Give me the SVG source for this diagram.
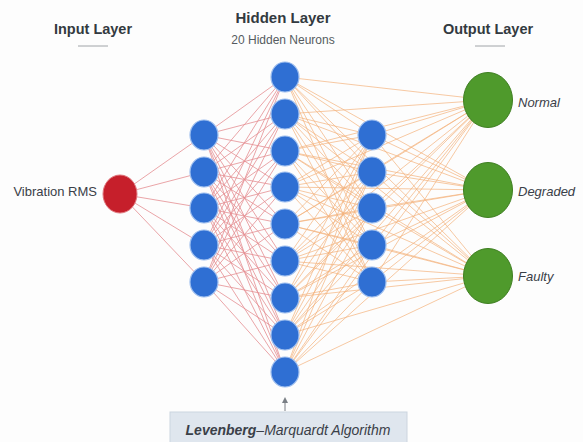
<svg xmlns="http://www.w3.org/2000/svg" width="583" height="442" viewBox="0 0 583 442">
  <defs>
    <style>
      .hdr { font-family: "Liberation Sans", Arial, sans-serif; font-weight: bold; fill: #333a40; text-anchor: middle; }
      .sub { font-family: "Liberation Sans", Arial, sans-serif; font-size: 12px; fill: #555b60; text-anchor: middle; }
      .lbl { font-family: "Liberation Sans", Arial, sans-serif; font-size: 13px; fill: #3a4048; }
      .out { font-style: italic; }
      .rule { stroke: #a0a4a8; stroke-width: 1; }
      .red { fill: none; stroke: #e58f92; stroke-width: 1; stroke-opacity: 0.8; }
      .org { fill: none; stroke: #f4b27c; stroke-width: 1; stroke-opacity: 0.7; }
      .in { fill: #c61f2b; stroke: #e0757c; stroke-width: 1; }
      .hid { fill: #2f6fd3; stroke: #9cbdee; stroke-width: 1.2; }
      .res { fill: #4f9a2c; stroke: #3f7f22; stroke-width: 1; }
    </style>
    <marker id="tip" viewBox="0 0 6 6" refX="3" refY="3" markerWidth="6" markerHeight="6" orient="auto">
      <path d="M0 0L6 3L0 6Z" fill="#7a7f85"/>
    </marker>
  </defs>

  <rect width="583" height="442" fill="#fdfdfd"/>

  <!-- layer titles -->
  <g id="titles">
    <text class="hdr" x="93" y="34" font-size="14.5">Input Layer</text>
    <line class="rule" x1="78" y1="46" x2="108" y2="46"/>
    <text class="hdr" x="283" y="23" font-size="15">Hidden Layer</text>
    <text class="sub" x="283" y="44">20 Hidden Neurons</text>
    <text class="hdr" x="488" y="34" font-size="14.5">Output Layer</text>
    <line class="rule" x1="475" y1="46" x2="505" y2="46"/>
  </g>

  <!-- weighted connections between layers -->
  <g id="connectors">
    <path class="red" d="M120 194L204 135M120 194L204 172M120 194L204 208M120 194L204 245M120 194L204 282"/>
    <path class="red" d="M204 135L285 77M204 135L285 114M204 135L285 151M204 135L285 187M204 135L285 224M204 135L285 261M204 135L285 298M204 135L285 335M204 135L285 372"/>
    <path class="red" d="M204 172L285 77M204 172L285 114M204 172L285 151M204 172L285 187M204 172L285 224M204 172L285 261M204 172L285 298M204 172L285 335M204 172L285 372"/>
    <path class="red" d="M204 208L285 77M204 208L285 114M204 208L285 151M204 208L285 187M204 208L285 224M204 208L285 261M204 208L285 298M204 208L285 335M204 208L285 372"/>
    <path class="red" d="M204 245L285 77M204 245L285 114M204 245L285 151M204 245L285 187M204 245L285 224M204 245L285 261M204 245L285 298M204 245L285 335M204 245L285 372"/>
    <path class="red" d="M204 282L285 77M204 282L285 114M204 282L285 151M204 282L285 187M204 282L285 224M204 282L285 261M204 282L285 298M204 282L285 335M204 282L285 372"/>

    <path class="org" d="M285 77L372 135M285 77L372 172M285 77L372 208M285 77L372 245M285 77L372 282M285 77L488 100M285 77L488 190M285 77L488 276"/>
    <path class="org" d="M285 114L372 135M285 114L372 172M285 114L372 208M285 114L372 245M285 114L372 282M285 114L488 100M285 114L488 190M285 114L488 276"/>
    <path class="org" d="M285 151L372 135M285 151L372 172M285 151L372 208M285 151L372 245M285 151L372 282M285 151L488 100M285 151L488 190M285 151L488 276"/>
    <path class="org" d="M285 187L372 135M285 187L372 172M285 187L372 208M285 187L372 245M285 187L372 282M285 187L488 100M285 187L488 190M285 187L488 276"/>
    <path class="org" d="M285 224L372 135M285 224L372 172M285 224L372 208M285 224L372 245M285 224L372 282M285 224L488 100M285 224L488 190M285 224L488 276"/>
    <path class="org" d="M285 261L372 135M285 261L372 172M285 261L372 208M285 261L372 245M285 261L372 282M285 261L488 100M285 261L488 190M285 261L488 276"/>
    <path class="org" d="M285 298L372 135M285 298L372 172M285 298L372 208M285 298L372 245M285 298L372 282M285 298L488 100M285 298L488 190M285 298L488 276"/>
    <path class="org" d="M285 335L372 135M285 335L372 172M285 335L372 208M285 335L372 245M285 335L372 282M285 335L488 100M285 335L488 190M285 335L488 276"/>
    <path class="org" d="M285 372L372 135M285 372L372 172M285 372L372 208M285 372L372 245M285 372L372 282M285 372L488 100M285 372L488 190M285 372L488 276"/>

    <path class="org" d="M372 135L488 100M372 135L488 190M372 135L488 276M372 172L488 100M372 172L488 190M372 172L488 276M372 208L488 100M372 208L488 190M372 208L488 276M372 245L488 100M372 245L488 190M372 245L488 276M372 282L488 100M372 282L488 190M372 282L488 276"/>

    <line x1="285" y1="411" x2="285" y2="400" stroke="#7a7f85" stroke-width="1" marker-end="url(#tip)"/>
  </g>

  <!-- input neuron -->
  <g id="input">
    <text class="lbl" x="97" y="196" text-anchor="end" font-size="12.5">Vibration RMS</text>
    <ellipse class="in" cx="120" cy="194" rx="17" ry="19"/>
  </g>

  <!-- first hidden column -->
  <g id="hidden-a">
    <ellipse class="hid" cx="204" cy="135" rx="14" ry="15"/>
    <ellipse class="hid" cx="204" cy="172" rx="14" ry="15"/>
    <ellipse class="hid" cx="204" cy="208" rx="14" ry="15"/>
    <ellipse class="hid" cx="204" cy="245" rx="14" ry="15"/>
    <ellipse class="hid" cx="204" cy="282" rx="14" ry="15"/>
  </g>

  <!-- second hidden column -->
  <g id="hidden-b">
    <ellipse class="hid" cx="285" cy="77" rx="14" ry="15"/>
    <ellipse class="hid" cx="285" cy="114" rx="14" ry="15"/>
    <ellipse class="hid" cx="285" cy="151" rx="14" ry="15"/>
    <ellipse class="hid" cx="285" cy="187" rx="14" ry="15"/>
    <ellipse class="hid" cx="285" cy="224" rx="14" ry="15"/>
    <ellipse class="hid" cx="285" cy="261" rx="14" ry="15"/>
    <ellipse class="hid" cx="285" cy="298" rx="14" ry="15"/>
    <ellipse class="hid" cx="285" cy="335" rx="14" ry="15"/>
    <ellipse class="hid" cx="285" cy="372" rx="14" ry="15"/>
  </g>

  <!-- third hidden column -->
  <g id="hidden-c">
    <ellipse class="hid" cx="372" cy="135" rx="14" ry="15"/>
    <ellipse class="hid" cx="372" cy="172" rx="14" ry="15"/>
    <ellipse class="hid" cx="372" cy="208" rx="14" ry="15"/>
    <ellipse class="hid" cx="372" cy="245" rx="14" ry="15"/>
    <ellipse class="hid" cx="372" cy="282" rx="14" ry="15"/>
  </g>

  <!-- output classes -->
  <g id="out-normal">
    <ellipse class="res" cx="488" cy="100" rx="24.5" ry="27.5"/>
    <text class="lbl out" x="518" y="107">Normal</text>
  </g>
  <g id="out-degraded">
    <ellipse class="res" cx="488" cy="190" rx="24.5" ry="27.5"/>
    <text class="lbl out" x="518" y="196">Degraded</text>
  </g>
  <g id="out-faulty">
    <ellipse class="res" cx="488" cy="276" rx="24.5" ry="27.5"/>
    <text class="lbl out" x="518" y="281">Faulty</text>
  </g>

  <!-- training algorithm caption -->
  <g id="algorithm">
    <rect x="170" y="412" width="237" height="34" fill="#dfe6ee" stroke="#ccd5df" stroke-width="1"/>
    <text x="288" y="435" text-anchor="middle" font-family="Liberation Sans, Arial, sans-serif" font-size="14" font-style="italic" fill="#3a4048"><tspan font-weight="bold">Levenberg</tspan>–Marquardt Algorithm</text>
  </g>
</svg>
